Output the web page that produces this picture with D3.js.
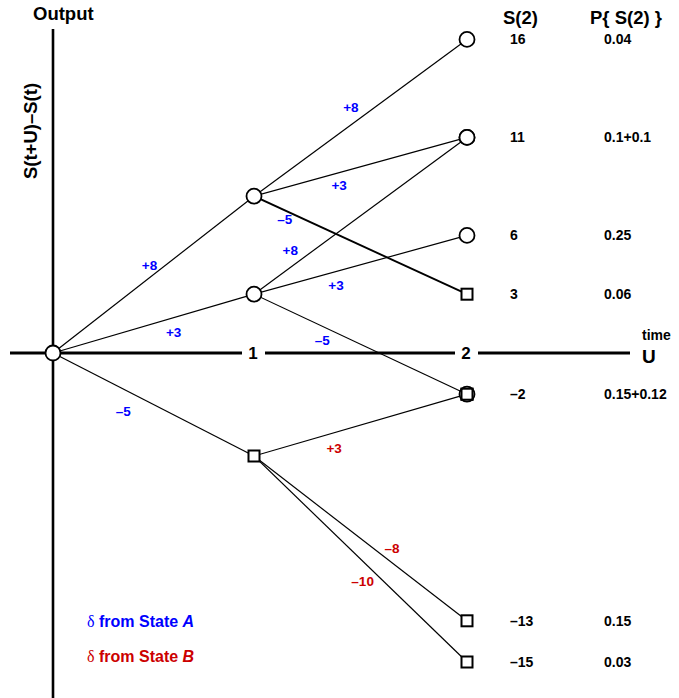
<!DOCTYPE html>
<html>
<head>
<meta charset="utf-8">
<script src="https://cdn.jsdelivr.net/npm/d3@7"></script>
<style>
  html, body { margin: 0; padding: 0; background: #fff; }
  svg { display: block; font-family: "Liberation Sans", Arial, sans-serif; font-weight: bold; }
</style>
</head>
<body>
<svg id="chart" width="679" height="698"></svg>
<script>
// ---------------- data ----------------
const timeTicks = [1, 2];
const tickLabels = ["1", "2"];
// each branch of the tree: start time, start value, change delta
const edgeFromTime  = [0, 0, 0, 1, 1, 1, 1, 1, 1, 1, 1, 1];
const edgeFromValue = [0, 0, 0, 8, 8, 8, 3, 3, 3, -5, -5, -5];
const edgeDelta     = [8, 3, -5, 8, 3, -5, 8, 3, -5, 3, -8, -10];
// outcomes at time 2
const finalValues = [16, 11, 6, 3, -2, -13, -15];
const finalLabels = ["16", "11", "6", "3", "\u20132", "\u201313", "\u201315"];
const finalProbs  = ["0.04", "0.1+0.1", "0.25", "0.06", "0.15+0.12", "0.15", "0.03"];
const legendStates = ["A", "B"];

// ---------------- layout (not data) ----------------
// where each delta label sits: fraction along branch, vertical pixel offset
const labelT  = [0.48, 0.60, 0.35, 0.455, 0.40, 0.145, 0.17, 0.385, 0.32, 0.376, 0.648, 0.51];
const labelDy = [-13, 14, 22, -18, 12, 9, -17, 14, 14, 15, -15, 20];
const boldEdges = [5];

const colorA = "#0000ff", colorB = "#cc0000";
const stateOf = d => d > 0 ? "A" : "B";
const stateColor = s => s === "A" ? colorA : colorB;

const svg = d3.select("#chart");
const x = d3.scaleLinear().domain([0, 1, 2]).range([53, 254, 467]);
// value axis: zero on the time axis, gains slightly more compressed than losses
const y = d3.scaleLinear().domain([-16, 0, 16]).range([353 + 16 * 20.6, 353, 353 - 16 * 19.6]);

const edges = edgeDelta.map((d, i) => ({
  t0: edgeFromTime[i], v0: edgeFromValue[i],
  t1: edgeFromTime[i] + 1, v1: edgeFromValue[i] + d, delta: d, i
}));
// state of a node = state after the branch that produced it (root is A)
function nodeState(t, v) {
  if (t === 0) return "A";
  const e = edges.find(e => e.t1 === t && e.v1 === v);
  return stateOf(e.delta);
}

// ---------------- axes ----------------
const y0 = y(0);
svg.append("line").attr("x1", x(0)).attr("x2", x(0)).attr("y1", 29).attr("y2", 698)
  .attr("stroke", "#000").attr("stroke-width", 2.6);
svg.append("line").attr("x1", 10).attr("x2", 630).attr("y1", y0).attr("y2", y0)
  .attr("stroke", "#000").attr("stroke-width", 3);
const tickG = svg.append("g").selectAll("g").data(timeTicks).join("g")
  .attr("transform", d => `translate(${x(d) - 1},${y0})`);
tickG.append("rect").attr("x", -11).attr("y", -4).attr("width", 23).attr("height", 8).attr("fill", "#fff");
tickG.append("text").attr("text-anchor", "middle").attr("dy", "0.36em")
  .attr("font-size", 17).text((d, i) => tickLabels[i]);

svg.append("text").attr("x", 33).attr("y", 20).attr("font-size", 18.5).text("Output");
svg.append("text").attr("transform", `translate(37,131) rotate(-90)`).attr("text-anchor", "middle")
  .attr("font-size", 18.5).text("S(t+U)\u2013S(t)");
svg.append("text").attr("x", 642).attr("y", 340).attr("font-size", 14).text("time");
svg.append("text").attr("x", 642).attr("y", 363).attr("font-size", 19).text("U");

// ---------------- branches ----------------
svg.append("g").selectAll("line").data(edges).join("line")
  .attr("x1", d => x(d.t0)).attr("y1", d => y(d.v0))
  .attr("x2", d => x(d.t1)).attr("y2", d => y(d.v1))
  .attr("stroke", "#000")
  .attr("stroke-width", d => boldEdges.includes(d.i) ? 1.9 : 1.2);

svg.append("g").selectAll("text").data(edges).join("text")
  .attr("x", d => x(d.t0) + labelT[d.i] * (x(d.t1) - x(d.t0)))
  .attr("y", d => y(d.v0) + labelT[d.i] * (y(d.v1) - y(d.v0)) + labelDy[d.i])
  .attr("dy", "0.36em").attr("text-anchor", "middle").attr("font-size", 13.5)
  .attr("fill", d => stateColor(nodeState(d.t0, d.v0)))
  .text(d => (d.delta > 0 ? "+" : "\u2013") + Math.abs(d.delta));

// ---------------- nodes ----------------
const markers = [{ t: 0, v: 0, s: "A" }].concat(edges.map(e => ({ t: e.t1, v: e.v1, s: stateOf(e.delta) })));
const mg = svg.append("g");
mg.selectAll("rect").data(markers.filter(m => m.s === "B")).join("rect")
  .attr("x", d => x(d.t) - 5.5).attr("y", d => y(d.v) - 5.5)
  .attr("width", 11).attr("height", 11)
  .attr("fill", "#fff").attr("stroke", "#000").attr("stroke-width", 2);
mg.selectAll("circle").data(markers.filter(m => m.s === "A")).join("circle")
  .attr("cx", d => x(d.t)).attr("cy", d => y(d.v)).attr("r", 7.5)
  .attr("fill", "#fff").attr("stroke", "#000").attr("stroke-width", 1.8);
// where a square and a circle share a node, redraw the square outline on top
mg.selectAll("rect.top").data(markers.filter(m => m.s === "B" && markers.some(o => o.s === "A" && o.t === m.t && o.v === m.v)))
  .join("rect").attr("class", "top")
  .attr("x", d => x(d.t) - 5.5).attr("y", d => y(d.v) - 5.5)
  .attr("width", 11).attr("height", 11)
  .attr("fill", "none").attr("stroke", "#000").attr("stroke-width", 2);

// ---------------- outcome table ----------------
svg.append("text").attr("x", 503).attr("y", 24).attr("font-size", 18.5).text("S(2)");
svg.append("text").attr("x", 590).attr("y", 24).attr("font-size", 18.5).text("P{ S(2) }");
const rows = svg.append("g").selectAll("g").data(finalValues).join("g")
  .attr("transform", d => `translate(0,${y(d)})`);
rows.append("text").attr("x", 510).attr("dy", "0.36em").attr("font-size", 14).text((d, i) => finalLabels[i]);
rows.append("text").attr("x", 604).attr("dy", "0.36em").attr("font-size", 14).text((d, i) => finalProbs[i]);

// ---------------- legend ----------------
const lg = svg.append("g").selectAll("text").data(legendStates).join("text")
  .attr("x", 87).attr("y", (d, i) => 627 + i * 35)
  .attr("font-size", 16).attr("fill", d => stateColor(d));
lg.append("tspan").attr("font-family", "'Liberation Serif', 'DejaVu Serif', serif").attr("font-weight", "normal").text("\u03B4");
lg.append("tspan").text(" from State ");
lg.append("tspan").attr("font-style", "italic").text(d => d);
</script>
</body>
</html>
